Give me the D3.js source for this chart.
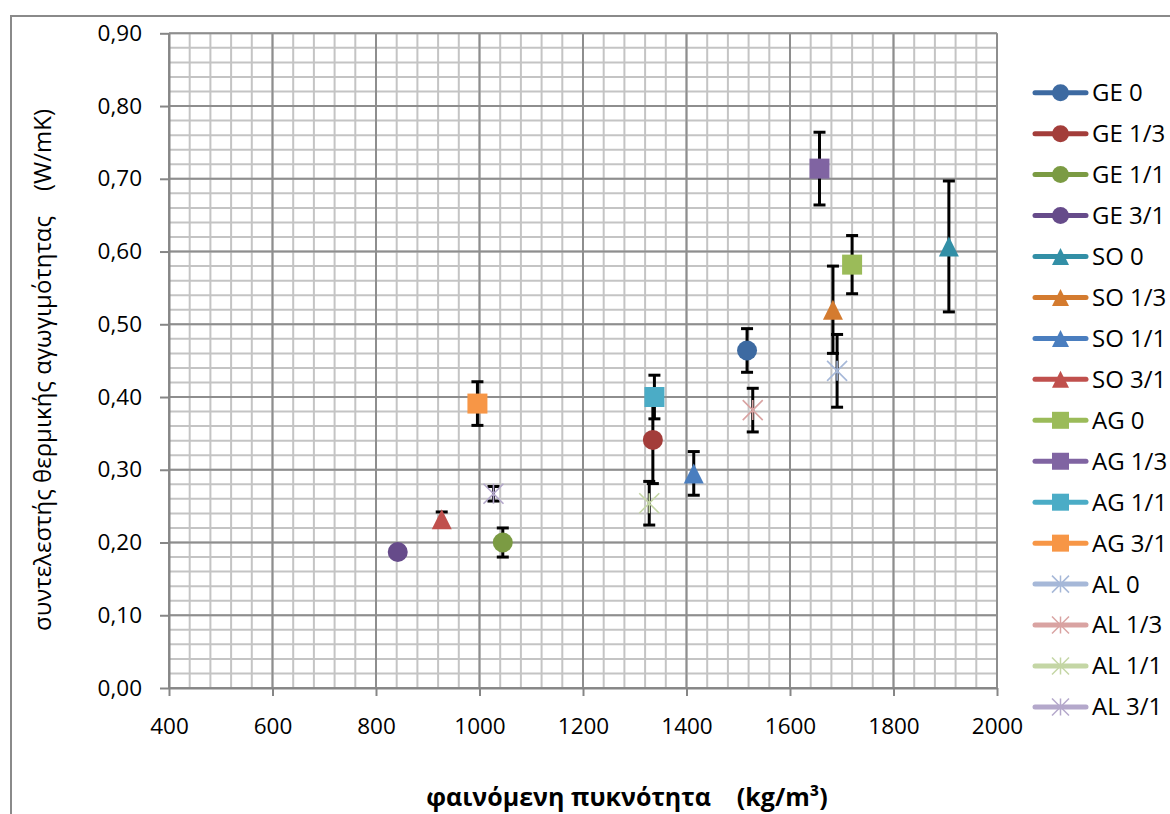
<!DOCTYPE html>
<html>
<head>
<meta charset="utf-8">
<script src="https://cdn.jsdelivr.net/npm/d3@7"></script>
<style>
  body { margin: 0; background: #fff; }
  svg { display: block; }
  text { font-family: "Open Sans", sans-serif; fill: #000; }
</style>
</head>
<body>
<svg id="chart" width="1170" height="814"></svg>
<script>
// series: one point each, with a symmetric error bar
const seriesNames = ["GE 0", "GE 1/3", "GE 1/1", "GE 3/1",
                     "SO 0", "SO 1/3", "SO 1/1", "SO 3/1",
                     "AG 0", "AG 1/3", "AG 1/1", "AG 3/1",
                     "AL 0", "AL 1/3", "AL 1/1", "AL 3/1"];
const density      = [1517, 1335, 1045, 842, 1907, 1683, 1414, 927, 1720, 1657, 1338, 996, 1691, 1528, 1328, 1027];
const conductivity = [0.464, 0.341, 0.200, 0.187, 0.607, 0.520, 0.295, 0.232, 0.582, 0.714, 0.400, 0.391, 0.436, 0.382, 0.254, 0.267];
const errorValues  = [0.030, 0.060, 0.020, 0.005, 0.090, 0.060, 0.030, 0.010, 0.040, 0.050, 0.030, 0.030, 0.050, 0.030, 0.030, 0.010];

const xTicks = [400, 600, 800, 1000, 1200, 1400, 1600, 1800, 2000];
const yTicks = [0, 0.1, 0.2, 0.3, 0.4, 0.5, 0.6, 0.7, 0.8, 0.9];

const xTitle = "φαινόμενη πυκνότητα    (kg/m³)";
const yTitle = "συντελεστής θερμικής αγωγιμότητας    (W/mK)";

const palette = ["#3d6aa1", "#a33d3a", "#7b9b43", "#664b8a",
                 "#328fa6", "#d47b2f", "#4a7ebf", "#c0504d",
                 "#9bbb59", "#8064a2", "#4bacc6", "#f79646",
                 "#a6b8d8", "#d9a3a2", "#c4d6a5", "#b4a8cb"];

const svg = d3.select("#chart");

const x = d3.scaleLinear().domain([400, 2000]).range([169, 997]);
const y = d3.scaleLinear().domain([0, 0.9]).range([688, 33.3]);

const commaFmt = d3.formatLocale({decimal: ",", thousands: ".", grouping: [3], currency: ["", ""]}).format(".2f");

// chart area border (cropped at right and bottom)
svg.append("rect")
  .attr("x", 11).attr("y", 16).attr("width", 1300).attr("height", 1000)
  .attr("fill", "none").attr("stroke", "#8a8a8a").attr("stroke-width", 2);

// grid: minor then major
const grid = svg.append("g");
const minorX = d3.range(400, 2001, 40);
const minorY = d3.range(0, 0.9001, 0.02);
grid.selectAll(".mx").data(minorX).enter().append("line")
  .attr("x1", d => x(d)).attr("x2", d => x(d)).attr("y1", y(0)).attr("y2", y(0.9))
  .attr("stroke", "#c4c4c4").attr("stroke-width", 2);
grid.selectAll(".my").data(minorY).enter().append("line")
  .attr("y1", d => y(d)).attr("y2", d => y(d)).attr("x1", x(400)).attr("x2", x(2000))
  .attr("stroke", "#c4c4c4").attr("stroke-width", 2);
grid.selectAll(".Mx").data(xTicks).enter().append("line")
  .attr("x1", d => x(d)).attr("x2", d => x(d)).attr("y1", y(0)).attr("y2", y(0.9))
  .attr("stroke", "#8e8e8e").attr("stroke-width", 2);
grid.selectAll(".My").data(yTicks).enter().append("line")
  .attr("y1", d => y(d)).attr("y2", d => y(d)).attr("x1", x(400)).attr("x2", x(2000))
  .attr("stroke", "#8e8e8e").attr("stroke-width", 2);

// axes
const xAxis = svg.append("g").attr("transform", `translate(0,${y(0)})`)
  .call(d3.axisBottom(x).tickValues(xTicks).tickFormat(d3.format("d")).tickSize(8).tickSizeOuter(0).tickPadding(22));
const yAxis = svg.append("g").attr("transform", `translate(${x(400)},0)`)
  .call(d3.axisLeft(y).tickValues(yTicks).tickFormat(commaFmt).tickSize(9).tickSizeOuter(0).tickPadding(18));
[xAxis, yAxis].forEach(a => {
  a.select(".domain").attr("stroke", "#868686").attr("stroke-width", 2);
  a.selectAll(".tick line").attr("stroke", "#868686").attr("stroke-width", 2);
  a.selectAll(".tick text").attr("font-size", 22.5).attr("font-family", "Open Sans").attr("fill", "#000");
});
xAxis.selectAll(".tick text").attr("dy", "0.71em");

// axis titles
svg.append("text")
  .attr("x", 627).attr("y", 797).attr("dy", "0.35em")
  .attr("text-anchor", "middle").attr("font-size", 25).attr("font-weight", "bold")
  .style("white-space", "pre").text(xTitle);
svg.append("text")
  .attr("transform", "translate(43,370) rotate(-90)")
  .attr("dy", "0.35em").attr("text-anchor", "middle").attr("font-size", 24)
  .style("white-space", "pre").text(yTitle);

// marker shapes by material group
const markerPath = (name, s) => {
  const g = name.slice(0, 2);
  if (g === "GE") return d3.symbol().type(d3.symbolCircle).size(Math.PI * s * s)();
  if (g === "AG") return `M${-s},${-s}H${s}V${s}H${-s}Z`;
  if (g === "SO") return `M0,${-s}L${s},${s}L${-s},${s}Z`;
  return `M0,${-s}V${s}M${-s},${-s}L${s},${s}M${-s},${s}L${s},${-s}`;
};
const isStar = name => name.startsWith("AL");

const points = seriesNames.map((name, i) => ({
  name, x: density[i], y: conductivity[i], e: errorValues[i], color: palette[i]
}));

// error bars
const bars = svg.append("g").selectAll("g").data(points).enter().append("g")
  .attr("stroke", "#000").attr("stroke-width", 3);
bars.append("line")
  .attr("x1", d => x(d.x)).attr("x2", d => x(d.x))
  .attr("y1", d => y(d.y - d.e)).attr("y2", d => y(d.y + d.e));
bars.append("line")
  .attr("x1", d => x(d.x) - 6).attr("x2", d => x(d.x) + 6)
  .attr("y1", d => y(d.y + d.e)).attr("y2", d => y(d.y + d.e));
bars.append("line")
  .attr("x1", d => x(d.x) - 6).attr("x2", d => x(d.x) + 6)
  .attr("y1", d => y(d.y - d.e)).attr("y2", d => y(d.y - d.e));

// markers
svg.append("g").selectAll("path").data(points).enter().append("path")
  .attr("transform", d => `translate(${x(d.x)},${y(d.y)})`)
  .attr("d", d => markerPath(d.name, 10))
  .attr("fill", d => isStar(d.name) ? "none" : d.color)
  .attr("stroke", d => d.color)
  .attr("stroke-width", d => isStar(d.name) ? 1.6 : 0);

// legend
const legend = svg.append("g").selectAll("g").data(points).enter().append("g")
  .attr("transform", (d, i) => `translate(0,${92.7 + i * 40.95})`);
legend.append("line")
  .attr("x1", 1035).attr("x2", 1086).attr("y1", 0).attr("y2", 0)
  .attr("stroke", d => d.color).attr("stroke-width", 5).attr("stroke-linecap", "round");
legend.append("path")
  .attr("transform", "translate(1060.5,0)")
  .attr("d", d => markerPath(d.name, 8.5))
  .attr("fill", d => isStar(d.name) ? "none" : d.color)
  .attr("stroke", d => d.color)
  .attr("stroke-width", d => isStar(d.name) ? 1.5 : 0);
legend.append("text")
  .attr("x", 1092).attr("y", 0).attr("dy", "0.35em")
  .attr("font-size", 24)
  .text(d => d.name);
</script>
</body>
</html>
